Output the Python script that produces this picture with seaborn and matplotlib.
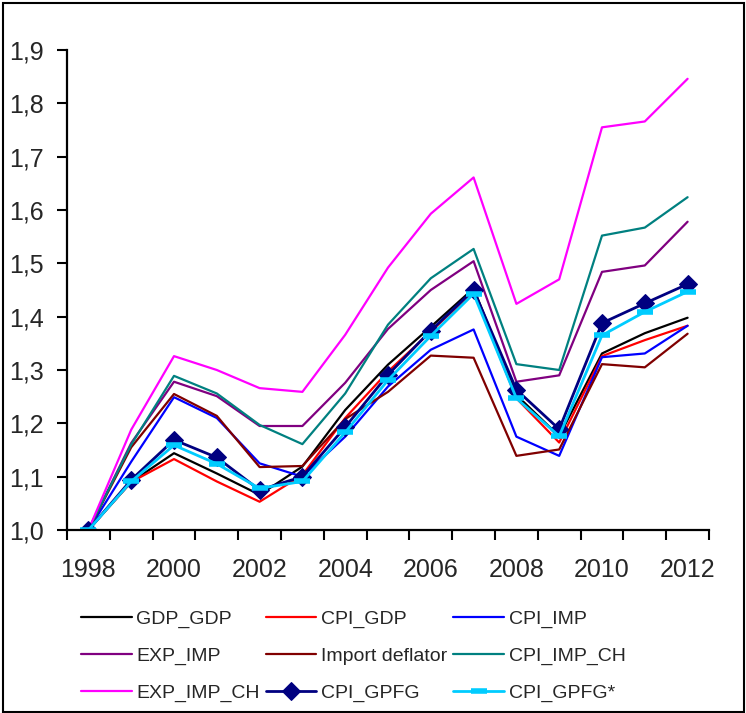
import matplotlib
matplotlib.use("Agg")
import matplotlib.pyplot as plt
from matplotlib.ticker import FixedLocator, FuncFormatter
from matplotlib.patches import Rectangle
import seaborn as sns
import pandas as pd

years = list(range(1998, 2013))

gdp_gdp = [1.000, 1.090, 1.144, 1.106, 1.066, 1.119, 1.225, 1.310, 1.381, 1.453, 1.253, 1.176, 1.331, 1.369, 1.398]
cpi_gdp = [1.000, 1.090, 1.133, 1.091, 1.053, 1.103, 1.210, 1.297, 1.372, 1.447, 1.247, 1.164, 1.326, 1.356, 1.383]
cpi_imp = [1.000, 1.128, 1.249, 1.210, 1.125, 1.100, 1.175, 1.269, 1.338, 1.376, 1.175, 1.139, 1.324, 1.331, 1.383]
exp_imp = [1.000, 1.163, 1.278, 1.251, 1.195, 1.195, 1.276, 1.377, 1.450, 1.504, 1.278, 1.290, 1.484, 1.496, 1.578]
import_deflator = [1.000, 1.155, 1.255, 1.214, 1.118, 1.120, 1.208, 1.259, 1.327, 1.323, 1.139, 1.151, 1.311, 1.305, 1.368]
cpi_imp_ch = [1.000, 1.160, 1.289, 1.256, 1.197, 1.161, 1.256, 1.385, 1.472, 1.527, 1.311, 1.300, 1.552, 1.567, 1.624]
exp_imp_ch = [1.000, 1.188, 1.326, 1.300, 1.266, 1.259, 1.366, 1.492, 1.593, 1.661, 1.424, 1.470, 1.755, 1.766, 1.846]
cpi_gpfg = [1.000, 1.094, 1.169, 1.136, 1.075, 1.100, 1.193, 1.291, 1.374, 1.450, 1.263, 1.189, 1.388, 1.425, 1.461]
cpi_gpfg_star = [1.000, 1.091, 1.159, 1.124, 1.078, 1.091, 1.183, 1.281, 1.364, 1.443, 1.247, 1.176, 1.365, 1.409, 1.447]

series = [
    ("GDP_GDP", gdp_gdp, "#000000", None),
    ("CPI_GDP", cpi_gdp, "#FF0000", None),
    ("CPI_IMP", cpi_imp, "#0000FF", None),
    ("EXP_IMP", exp_imp, "#800080", None),
    ("Import deflator", import_deflator, "#800000", None),
    ("CPI_IMP_CH", cpi_imp_ch, "#008080", None),
    ("EXP_IMP_CH", exp_imp_ch, "#FF00FF", None),
    ("CPI_GPFG", cpi_gpfg, "#000080", "D"),
    ("CPI_GPFG*", cpi_gpfg_star, "#00CCFF", "_"),
]

sns.set_style("ticks")
plt.rcParams["font.family"] = ["Liberation Sans", "DejaVu Sans"]

fig = plt.figure(figsize=(7.46, 7.13), dpi=100)
ax = fig.add_axes([67 / 746, (713 - 530) / 713, (709 - 67) / 746, (530 - 50) / 713])

for name, vals, color, marker in series:
    df = pd.DataFrame({"year": years, "value": vals})
    kw = dict(color=color, linewidth=1.6)
    if marker == "D":
        kw.update(marker="D", markersize=9, markeredgecolor=color, markerfacecolor=color, linewidth=2.0)
    elif marker == "_":
        kw.update(marker="_", markersize=11, markeredgewidth=4, markeredgecolor=color, linewidth=2.0)
    sns.lineplot(data=df, x="year", y="value", ax=ax, label=name, **kw)

h, l = ax.get_legend_handles_labels()
ax.get_legend().remove()
lookup = dict(zip(l, h))
# legend is filled column by column, so list entries per column
order = ["GDP_GDP", "EXP_IMP", "EXP_IMP_CH",
         "CPI_GDP", "Import deflator", "CPI_GPFG",
         "CPI_IMP", "CPI_IMP_CH", "CPI_GPFG*"]
fig.legend([lookup[k] for k in order], order, ncol=3, frameon=False,
           loc="upper left", bbox_to_anchor=(81 / 746, 1 - 610 / 713),
           fontsize=14, handlelength=2.6, handletextpad=0.25,
           columnspacing=0.3, labelspacing=1.0, borderpad=0, borderaxespad=0)

ax.set_xlim(1997.5, 2012.5)
ax.set_ylim(1.0, 1.9)
ax.set_xlabel("")
ax.set_ylabel("")

ax.xaxis.set_major_locator(FixedLocator(years[::2]))
ax.xaxis.set_minor_locator(FixedLocator([y - 0.5 for y in years] + [2012.5]))
ax.tick_params(axis="x", which="major", length=0, pad=20, labelsize=18)
ax.tick_params(axis="x", which="minor", length=7, width=1.5, direction="out", color="black")
ax.yaxis.set_major_locator(FixedLocator([1.0 + 0.1 * i for i in range(10)]))
ax.yaxis.set_major_formatter(FuncFormatter(lambda v, p: f"{v:.1f}".replace(".", ",")))
ax.tick_params(axis="y", length=7, width=1.5, direction="out", pad=10, labelsize=18, color="black")

for side in ("top", "right"):
    ax.spines[side].set_visible(False)
for side in ("left", "bottom"):
    ax.spines[side].set_linewidth(1.6)
    ax.spines[side].set_color("black")

fig.patches.append(Rectangle((2.5 / 746, 1.5 / 713), 741 / 746, 708.5 / 713,
                             transform=fig.transFigure, fill=False,
                             edgecolor="black", linewidth=1.5))

fig.savefig("out.png", dpi=100)
